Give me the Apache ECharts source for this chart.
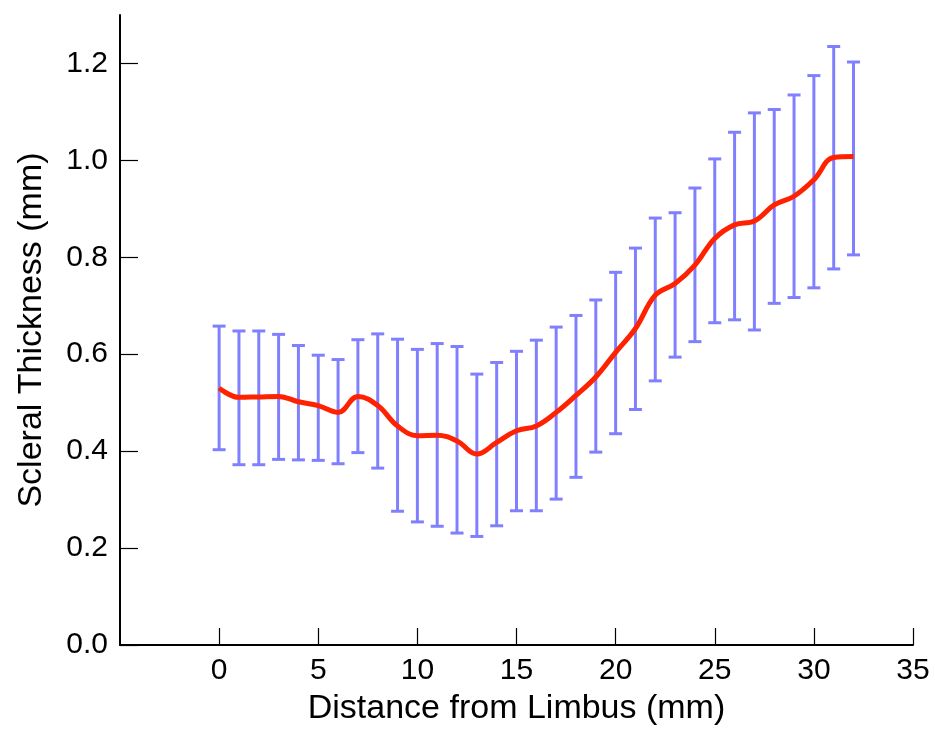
<!DOCTYPE html>
<html>
<head>
<meta charset="utf-8">
<script src="https://cdn.jsdelivr.net/npm/echarts@6/dist/echarts.min.js"></script>
<style>
  html, body { margin: 0; padding: 0; background: #fff; }
  #main { width: 935px; height: 734px; }
</style>
</head>
<body>
<div id="main"></div>
<script>
// distance from limbus (mm)
var distance = [0, 1, 2, 3, 4, 5, 6, 7, 8, 9, 10, 11, 12, 13, 14, 15, 16,
  17, 18, 19, 20, 21, 22, 23, 24, 25, 26, 27, 28, 29, 30, 31, 32];
// mean scleral thickness (mm)
var meanThickness = [0.530, 0.511, 0.512, 0.513, 0.502, 0.494, 0.480, 0.513, 0.494,
  0.452, 0.432, 0.433, 0.421, 0.394, 0.418, 0.442, 0.452, 0.480, 0.515, 0.553,
  0.604, 0.653, 0.722, 0.746, 0.784, 0.839, 0.867, 0.875, 0.908, 0.926, 0.960,
  1.006, 1.008];
// error bar ends
var upperBar = [0.658, 0.648, 0.648, 0.641, 0.618, 0.598, 0.589, 0.630, 0.642,
  0.631, 0.610, 0.622, 0.616, 0.559, 0.583, 0.606, 0.629, 0.656, 0.680, 0.712,
  0.769, 0.819, 0.881, 0.892, 0.943, 1.003, 1.058, 1.098, 1.105, 1.135, 1.175,
  1.235, 1.203];
var lowerBar = [0.403, 0.372, 0.372, 0.383, 0.382, 0.381, 0.374, 0.397, 0.365,
  0.276, 0.254, 0.245, 0.231, 0.224, 0.246, 0.277, 0.277, 0.301, 0.346, 0.398,
  0.436, 0.486, 0.545, 0.594, 0.626, 0.665, 0.671, 0.650, 0.705, 0.717, 0.737,
  0.776, 0.805];
var xTicks = [0, 5, 10, 15, 20, 25, 30, 35];
var yTicks = [0, 0.2, 0.4, 0.6, 0.8, 1.0, 1.2];

var lineData = [];
var barData = [];
for (var i = 0; i < distance.length; i++) {
  lineData.push([distance[i], meanThickness[i]]);
  barData.push([distance[i], lowerBar[i], upperBar[i]]);
}

var font = "'Liberation Sans', Arial, Helvetica, sans-serif";

var myChart = echarts.init(document.getElementById("main"), null, { renderer: "canvas" });
myChart.setOption({
  animation: false,
  backgroundColor: "#fff",
  grid: { left: 120, right: 22, top: 15, bottom: 89, containLabel: false },
  xAxis: {
    type: "value",
    min: -5,
    max: 35,
    name: "Distance from Limbus (mm)",
    nameLocation: "middle",
    nameGap: 47,
    nameTextStyle: { fontFamily: font, fontSize: 34, color: "#000" },
    axisLine: { show: true, onZero: false, lineStyle: { color: "#000", width: 2 } },
    axisTick: { show: true, inside: true, length: 17, customValues: xTicks,
      lineStyle: { color: "#000", width: 1.2 } },
    axisLabel: { customValues: xTicks, margin: 11, fontFamily: font, fontSize: 30, color: "#000" },
    splitLine: { show: false }
  },
  yAxis: {
    type: "value",
    min: 0,
    max: 1.3,
    name: "Scleral Thickness (mm)",
    nameLocation: "middle",
    nameGap: 71,
    nameTextStyle: { fontFamily: font, fontSize: 34, color: "#000" },
    axisLine: { show: true, onZero: false, lineStyle: { color: "#000", width: 2 } },
    axisTick: { show: true, inside: true, length: 18, customValues: yTicks,
      lineStyle: { color: "#000", width: 1.2 } },
    axisLabel: {
      customValues: yTicks, margin: 12, fontFamily: font, fontSize: 30, color: "#000",
      formatter: function (v) { return v.toFixed(1); }
    },
    splitLine: { show: false }
  },
  series: [
    {
      name: "error",
      type: "custom",
      data: barData,
      renderItem: function (params, api) {
        var x = api.value(0);
        var lo = api.coord([x, api.value(1)]);
        var hi = api.coord([x, api.value(2)]);
        var half = 6.5;
        var style = { stroke: "#8080ff", lineWidth: 3 };
        return {
          type: "group",
          children: [
            { type: "line", shape: { x1: lo[0], y1: lo[1], x2: hi[0], y2: hi[1] }, style: style },
            { type: "line", shape: { x1: lo[0] - half, y1: lo[1], x2: lo[0] + half, y2: lo[1] }, style: style },
            { type: "line", shape: { x1: hi[0] - half, y1: hi[1], x2: hi[0] + half, y2: hi[1] }, style: style }
          ]
        };
      },
      z: 2
    },
    {
      name: "mean",
      type: "line",
      data: lineData,
      smooth: 0.4,
      showSymbol: false,
      lineStyle: { color: "#ff2200", width: 5 },
      z: 3
    }
  ]
});
</script>
</body>
</html>
